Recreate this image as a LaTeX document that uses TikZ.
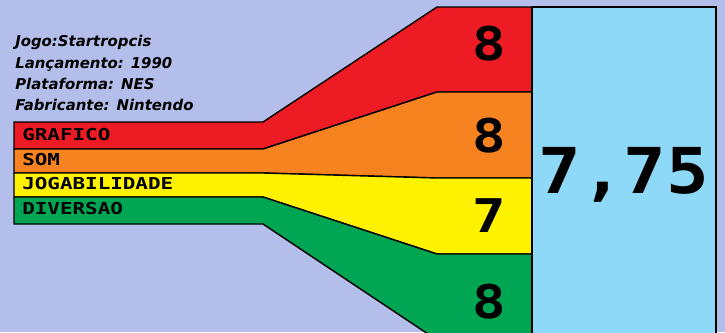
\documentclass[tikz,border=0pt]{standalone}
\usepackage{fontspec}
\usepackage{graphicx}
\setmainfont{DejaVu Sans}
\newfontfamily\pixfont{DejaVu Sans Mono}
\usetikzlibrary{positioning}

\definecolor{fundo}{RGB}{180,190,234}
\definecolor{vermelho}{RGB}{237,28,36}
\definecolor{laranja}{RGB}{246,130,32}
\definecolor{amarelo}{RGB}{255,242,0}
\definecolor{verde}{RGB}{0,166,81}
\definecolor{azul}{RGB}{143,217,248}

\begin{document}
\begin{tikzpicture}[x=0.025cm, y=-0.025cm,
    faixa/.style={draw=black, line width=1pt, line join=miter},
    info/.style ={anchor=base west, inner sep=0pt,
                  font=\bfseries\itshape\fontsize{10.6}{12}\selectfont},
    rotulo/.style={anchor=base west, inner sep=0pt,
                  font=\pixfont\bfseries\fontsize{11.7}{12}\selectfont},
    nota/.style ={anchor=base, inner sep=0pt,
                  font=\pixfont\bfseries\fontsize{33}{33}\selectfont},
    media/.style={anchor=base, inner sep=0pt,
                  font=\pixfont\bfseries\fontsize{45}{45}\selectfont}
  ]
  \useasboundingbox (0,0) rectangle (725,332);
  \fill[fundo] (0,0) rectangle (725,332);
  \clip (0,0) rectangle (725,332);

  % Faixas
  \filldraw[faixa, fill=vermelho] (14,122) -- (263,122) -- (437,7) -- (532,7)
    -- (532,92) -- (437,92) -- (263,149) -- (14,149) -- cycle;
  \filldraw[faixa, fill=laranja] (14,149) -- (263,149) -- (437,92) -- (532,92)
    -- (532,178) -- (437,178) -- (263,173) -- (14,173) -- cycle;
  \filldraw[faixa, fill=amarelo] (14,173) -- (263,173) -- (437,178) -- (532,178)
    -- (532,254) -- (437,254) -- (263,197) -- (14,197) -- cycle;
  \filldraw[faixa, fill=verde] (14,197) -- (263,197) -- (437,254) -- (532,254)
    -- (532,340) -- (437,340) -- (263,224) -- (14,224) -- cycle;

  % Caixa da media
  \filldraw[faixa, fill=azul] (532,7) rectangle (716,345);

  % Ficha do jogo
  \node[info] (jogo)  at (15,46.5)  {Jogo:Startropcis};
  \node[info] (lanc)  at (15,68)    {Lançamento: 1990};
  \node[info] (plat)  at (15,89)    {Plataforma: NES};
  \node[info] (fabr)  at (15,110.5) {Fabricante: Nintendo};

  % Rotulos
  \node[rotulo] (grafico)  at (22,140.5) {\scalebox{1.27}[1]{GRAFICO}};
  \node[rotulo] (som)      at (22,165)   {\scalebox{1.27}[1]{SOM}};
  \node[rotulo] (jogab)    at (22,189)   {\scalebox{1.27}[1]{JOGABILIDADE}};
  \node[rotulo] (diversao) at (22,214)   {\scalebox{1.27}[1]{DIVERSAO}};

  % Notas
  \node[nota] (nGrafico)  at (489,60)  {\scalebox{1.2}[1]{8}};
  \node[nota] (nSom)      at (489,152) {\scalebox{1.2}[1]{8}};
  \node[nota] (nJogab)    at (489,232) {\scalebox{1.2}[1]{7}};
  \node[nota] (nDiversao) at (489,318) {\scalebox{1.2}[1]{8}};

  % Media
  \node[media] (nMedia) at (624,193) {\scalebox{1.12}[1]{7,75}};
\end{tikzpicture}
\end{document}
